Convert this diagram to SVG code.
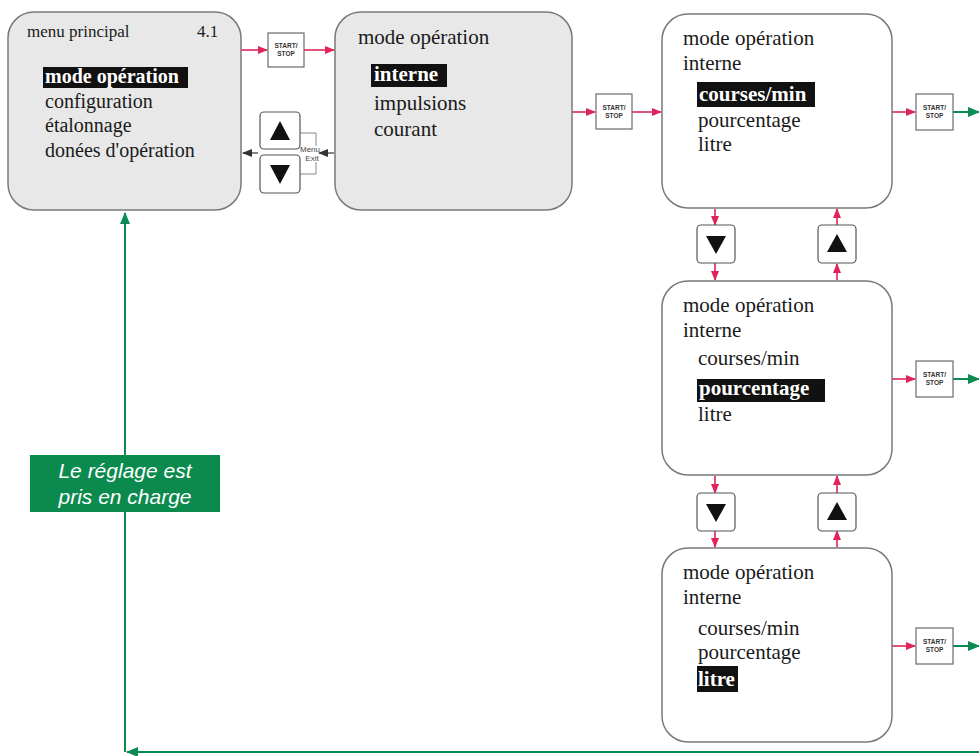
<svg xmlns="http://www.w3.org/2000/svg" width="979" height="756" viewBox="0 0 979 756">
<style>
.box{stroke:#7a7a7a;stroke-width:1.5}
.gray{fill:#e8e8e8}
.white{fill:#ffffff}
.t{font-family:"Liberation Serif","Times New Roman",serif;fill:#1a1a1a}
.hl{font-family:"Liberation Serif","Times New Roman",serif;fill:#ffffff;font-weight:bold}
.ss{fill:#ffffff;stroke:#6a6a6a;stroke-width:1.2}
.sst{font-family:"Liberation Sans",Arial,sans-serif;font-size:6.5px;font-weight:bold;fill:#333;text-anchor:middle}
.btn{fill:#ffffff;stroke:#555;stroke-width:1.2}
.red{stroke:#e0245a;stroke-width:1.6;fill:none;marker-end:url(#ar)}
.grn{stroke:#0b8a52;stroke-width:2;fill:none}
.blk{stroke:#444;stroke-width:1.3;fill:none;marker-end:url(#ab)}
.brk{stroke:#888;stroke-width:1;fill:none}
</style>
<defs>
<marker id="ar" markerUnits="userSpaceOnUse" markerWidth="10" markerHeight="8" refX="9" refY="4" orient="auto"><path d="M0,0 L10,4 L0,8 z" fill="#e0245a"/></marker>
<marker id="ag" markerUnits="userSpaceOnUse" markerWidth="12" markerHeight="10" refX="11" refY="5" orient="auto"><path d="M0,0 L12,5 L0,10 z" fill="#0b8a52"/></marker>
<marker id="ab" markerUnits="userSpaceOnUse" markerWidth="10" markerHeight="8" refX="9" refY="4" orient="auto"><path d="M0,0 L10,4 L0,8 z" fill="#333"/></marker>
</defs>
<rect width="979" height="756" fill="#ffffff"/>

<g id="connectors">
  <line class="red" x1="241" y1="50" x2="267" y2="50"/>
  <line class="red" x1="304" y1="50" x2="334" y2="50"/>
  <line class="red" x1="572" y1="112" x2="595" y2="112"/>
  <line class="red" x1="632" y1="112" x2="661" y2="112"/>
  <line class="red" x1="892" y1="112" x2="915" y2="112"/>
  <line class="red" x1="892" y1="379" x2="915" y2="379"/>
  <line class="red" x1="892" y1="646" x2="915" y2="646"/>
  <line class="grn" x1="953" y1="112" x2="979" y2="112" marker-end="url(#ag)"/>
  <line class="grn" x1="953" y1="379" x2="979" y2="379" marker-end="url(#ag)"/>
  <line class="grn" x1="953" y1="646" x2="979" y2="646" marker-end="url(#ag)"/>
  <line class="red" x1="715" y1="209" x2="715" y2="225"/>
  <line class="red" x1="715" y1="263" x2="715" y2="280"/>
  <line class="red" x1="715" y1="476" x2="715" y2="493"/>
  <line class="red" x1="715" y1="531" x2="715" y2="547"/>
  <line class="red" x1="837" y1="225" x2="837" y2="209"/>
  <line class="red" x1="837" y1="280" x2="837" y2="264"/>
  <line class="red" x1="837" y1="493" x2="837" y2="476"/>
  <line class="red" x1="837" y1="547" x2="837" y2="531"/>
  <line class="blk" x1="258" y1="153" x2="243" y2="153"/>
  <line class="blk" x1="334" y1="153" x2="319" y2="153"/>
  <polyline class="brk" points="300,133 316,133 316,146"/>
  <polyline class="brk" points="300,174 316,174 316,162"/>
  <line class="grn" x1="979" y1="752" x2="127" y2="752" marker-end="url(#ag)"/>
  <line class="grn" x1="125" y1="752" x2="125" y2="213" marker-end="url(#ag)"/>
</g>

<g id="menu-principal">
  <rect class="box gray" x="8" y="12" width="233" height="198" rx="26"/>
  <text class="t" x="27" y="37" font-size="17">menu principal</text>
  <text class="t" x="197" y="37" font-size="17">4.1</text>
  <rect x="43" y="67" width="145" height="21" fill="#111"/>
  <text class="hl" x="45" y="83" font-size="20">mode opération</text>
  <text class="t" x="45" y="108" font-size="20">configuration</text>
  <text class="t" x="45" y="132" font-size="20">étalonnage</text>
  <text class="t" x="45" y="157" font-size="20">donées d'opération</text>
</g>

<g id="start-stop-1">
  <rect class="ss" x="268" y="33" width="36" height="34"/>
  <text class="sst" x="286" y="48">START/</text>
  <text class="sst" x="286" y="56">STOP</text>
</g>

<g id="nav-buttons">
  <rect class="btn" x="260" y="112" width="40" height="37" rx="4"/>
  <path d="M280,121 L270,140 L290,140 z" fill="#111"/>
  <rect class="btn" x="260" y="155" width="40" height="38" rx="4"/>
  <path d="M270,165 L290,165 L280,184 z" fill="#111"/>
  <text x="310" y="152" font-family="Liberation Sans,Arial,sans-serif" font-size="8" fill="#444" text-anchor="middle">Menu</text>
  <text x="312" y="161" font-family="Liberation Sans,Arial,sans-serif" font-size="8" fill="#444" text-anchor="middle">Exit</text>
</g>

<g id="mode-operation">
  <rect class="box gray" x="335" y="12" width="237" height="198" rx="26"/>
  <text class="t" x="358" y="44" font-size="21">mode opération</text>
  <rect x="371" y="64" width="76" height="23" fill="#111"/>
  <text class="hl" x="374" y="81" font-size="21">interne</text>
  <text class="t" x="374" y="110" font-size="21">impulsions</text>
  <text class="t" x="374" y="136" font-size="21">courant</text>
</g>

<g id="start-stop-2">
  <rect class="ss" x="596" y="94" width="36" height="35"/>
  <text class="sst" x="614" y="110">START/</text>
  <text class="sst" x="614" y="118">STOP</text>
</g>

<g id="courses-min">
  <rect class="box white" x="662" y="14" width="230" height="194" rx="26"/>
  <text class="t" x="683" y="45" font-size="21">mode opération</text>
  <text class="t" x="683" y="70" font-size="21">interne</text>
  <rect x="697" y="82" width="118" height="25" fill="#111"/>
  <text class="hl" x="699" y="101" font-size="21">courses/min</text>
  <text class="t" x="698" y="127" font-size="21">pourcentage</text>
  <text class="t" x="698" y="151" font-size="21">litre</text>
</g>

<g id="start-stop-3">
  <rect class="ss" x="916" y="94" width="37" height="36"/>
  <text class="sst" x="934.5" y="110">START/</text>
  <text class="sst" x="934.5" y="118">STOP</text>
</g>

<g id="nav-1">
  <rect class="btn" x="697" y="225" width="38" height="38" rx="4"/>
  <path d="M706,236 L726,236 L716,254 z" fill="#111"/>
  <rect class="btn" x="818" y="225" width="38" height="38" rx="4"/>
  <path d="M837,234 L827,252 L847,252 z" fill="#111"/>
</g>

<g id="pourcentage">
  <rect class="box white" x="662" y="281" width="230" height="194" rx="26"/>
  <text class="t" x="683" y="312" font-size="21">mode opération</text>
  <text class="t" x="683" y="337" font-size="21">interne</text>
  <text class="t" x="698" y="365" font-size="21">courses/min</text>
  <rect x="697" y="379" width="128" height="23" fill="#111"/>
  <text class="hl" x="699" y="395" font-size="21">pourcentage</text>
  <text class="t" x="698" y="421" font-size="21">litre</text>
</g>

<g id="start-stop-4">
  <rect class="ss" x="916" y="361" width="37" height="36"/>
  <text class="sst" x="934.5" y="377">START/</text>
  <text class="sst" x="934.5" y="385">STOP</text>
</g>

<g id="nav-2">
  <rect class="btn" x="697" y="493" width="38" height="38" rx="4"/>
  <path d="M706,504 L726,504 L716,522 z" fill="#111"/>
  <rect class="btn" x="818" y="493" width="38" height="38" rx="4"/>
  <path d="M837,502 L827,520 L847,520 z" fill="#111"/>
</g>

<g id="litre">
  <rect class="box white" x="662" y="548" width="230" height="194" rx="26"/>
  <text class="t" x="683" y="579" font-size="21">mode opération</text>
  <text class="t" x="683" y="604" font-size="21">interne</text>
  <text class="t" x="698" y="635" font-size="21">courses/min</text>
  <text class="t" x="698" y="659" font-size="21">pourcentage</text>
  <rect x="697" y="666" width="41" height="26" fill="#111"/>
  <text class="hl" x="698" y="686" font-size="21">litre</text>
</g>

<g id="start-stop-5">
  <rect class="ss" x="916" y="628" width="37" height="36"/>
  <text class="sst" x="934.5" y="644">START/</text>
  <text class="sst" x="934.5" y="652">STOP</text>
</g>

<g id="label-reglage">
  <rect x="30" y="455" width="190" height="57" fill="#0b8a4e"/>
  <text x="125" y="478" font-family="Liberation Sans,Arial,sans-serif" font-size="21" font-style="italic" fill="#ffffff" text-anchor="middle">Le réglage est</text>
  <text x="125" y="504" font-family="Liberation Sans,Arial,sans-serif" font-size="21" font-style="italic" fill="#ffffff" text-anchor="middle">pris en charge</text>
</g>
</svg>
